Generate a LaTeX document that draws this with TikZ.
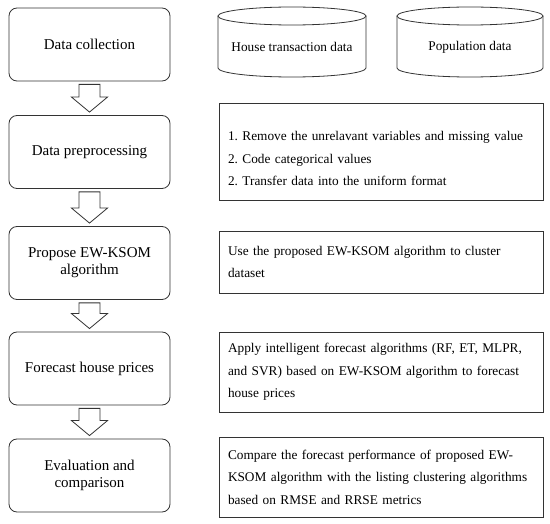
\documentclass[tikz,border=0pt]{standalone}
\usepackage{fontspec}
\setmainfont{Liberation Serif}
\usetikzlibrary{calc}
\frenchspacing

\tikzset{
  stage/.style={draw=black!80, line width=0.8pt, rounded corners=8pt, minimum width=161pt, minimum height=73pt, align=center, inner sep=2pt, font=\fontsize{15}{17}\selectfont},
  detail/.style={draw=black!80, line width=0.8pt, text width=306pt, inner xsep=9pt, align=left, font=\fontsize{13.3}{22.5}\selectfont},
  dbtext/.style={font=\fontsize{13.3}{16}\selectfont},
  dbline/.style={draw=black!80, line width=0.8pt},
  flowarrow/.style={draw=black!80, line width=0.8pt, fill=white}
}

\begin{document}
\begin{tikzpicture}[x=1pt, y=-1pt]
    \useasboundingbox (0,0) rectangle (550,524);

    % Stages on the left
    \node[stage] (collect) at (89.5,44.5) {Data collection};
    \node[stage] (prep) at (89.5,152) {Data preprocessing};
    \node[stage] (propose) at (89.5,263) {Propose EW-KSOM\\algorithm};
    \node[stage] (forecast) at (89.5,368.5) {Forecast house prices};
    \node[stage] (evaluate) at (89.5,475.5) {Evaluation and\\comparison};

    % Data sources
    \node[dbtext] (house) at (292,47) {House transaction data};
    \draw[dbline] ($(house)+(-74,-31)$) -- ++(0,52) arc[start angle=180, end angle=0, x radius=74, y radius=9] -- ++(0,-52);
    \draw[dbline] ($(house)+(0,-31)$) ellipse[x radius=74, y radius=9];

    \node[dbtext] (population) at (470,47) {Population data};
    \draw[dbline] ($(population)+(-73,-31)$) -- ++(0,52) arc[start angle=180, end angle=0, x radius=73, y radius=9] -- ++(0,-52);
    \draw[dbline] ($(population)+(0,-31)$) ellipse[x radius=73, y radius=9];

    % Details on the right
    \node[detail, minimum height=97pt] (prepsteps) at (381,151.5) {\rule{0pt}{24pt}1. Remove the unrelavant variables and missing value\\2. Code categorical values\\2. Transfer data into the uniform format};
    \node[detail, minimum height=62pt] (cluster) at (381,262) {Use the proposed EW-KSOM algorithm to cluster\\dataset};
    \node[detail, minimum height=80pt] (apply) at (381,372) {Apply intelligent forecast algorithms (RF, ET, MLPR,\\and SVR) based on EW-KSOM algorithm to forecast\\house prices};
    \node[detail, minimum height=80pt] (compare) at (381,477) {Compare the forecast performance of proposed EW-\\KSOM algorithm with the listing clustering algorithms\\based on RMSE and RRSE metrics};

    % Hollow arrows between stages
    \foreach \a/\b in {collect/prep, prep/propose, propose/forecast, forecast/evaluate}
        \draw[flowarrow] let \p1=($(\a.south)!3pt!(\b.north)$), \p2=($(\b.north)!3pt!(\a.south)$) in
            (\x1-10.5pt,\y1) -- (\x1+10.5pt,\y1) -- (\x1+10.5pt,\y2+15pt) -- (\x1+18pt,\y2+15pt)
            -- (\x1,\y2) -- (\x1-18pt,\y2+15pt) -- (\x1-10.5pt,\y2+15pt) -- cycle;
\end{tikzpicture}
\end{document}
